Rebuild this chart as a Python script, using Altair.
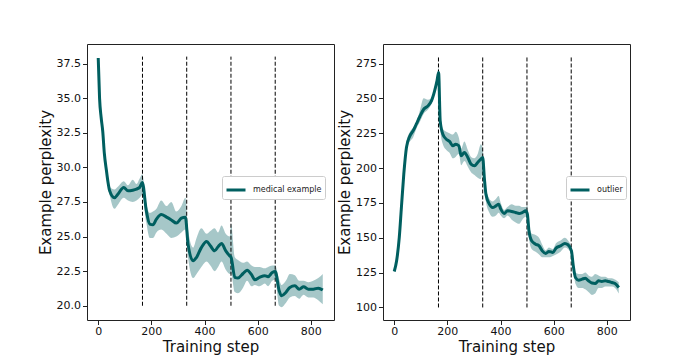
import altair as alt
import pandas as pd

# ---------------- data ----------------
med_steps = [0, 5, 11, 17, 23, 31, 37, 43, 61, 74, 96, 112, 130, 144, 156, 166,
             181, 194, 206, 219, 237, 257, 275, 294, 313, 328, 338, 357, 370, 388,
             408, 422, 438, 451, 464, 480, 495, 500, 514, 526, 545, 560, 577, 589,
             607, 627, 639, 655, 666, 681, 690, 706, 721, 740, 756, 773, 791, 809,
             828, 845]
med_mean = [37.9, 35.0, 33.6, 32.6, 31.0, 29.75, 28.9, 28.3, 27.8, 28.06, 28.55, 28.3,
            28.35, 28.43, 28.55, 28.9, 26.86, 25.9, 25.85, 26.26, 26.6, 26.4, 26.2,
            25.97, 26.33, 26.4, 24.45, 23.25, 23.5, 24.2, 24.65, 24.33, 23.97, 24.26,
            24.5, 23.97, 23.6, 23.5, 22.05, 22.0, 22.33, 22.57, 22.25, 21.88, 22.05,
            22.17, 22.1, 22.4, 22.48, 21.08, 20.72, 20.96, 21.32, 21.44, 21.2, 21.37,
            21.2, 21.2, 21.27, 21.13]
med_lo = [37.85, 34.9, 33.5, 32.5, 30.85, 29.6, 28.6, 28.0, 27.0, 27.3, 27.8, 27.6,
          27.5, 27.6, 27.8, 28.0, 26.0, 24.9, 24.9, 25.3, 25.5, 25.2, 24.9, 25.0,
          25.3, 25.5, 23.5, 22.0, 22.3, 22.8, 23.2, 22.9, 22.5, 22.8, 23.2, 22.6,
          22.3, 22.3, 21.0, 20.9, 21.3, 21.8, 21.4, 21.5, 21.4, 21.6, 21.4, 21.8,
          21.9, 20.0, 19.9, 20.2, 20.6, 20.7, 20.5, 20.8, 20.6, 20.6, 20.4, 20.1]
med_hi = [37.95, 35.1, 33.7, 32.7, 31.15, 29.9, 29.2, 28.6, 28.4, 28.6, 29.0, 28.7,
          29.1, 28.8, 29.2, 29.5, 27.4, 26.7, 26.8, 27.0, 27.6, 27.2, 27.5, 26.8,
          27.2, 27.8, 25.5, 24.2, 24.9, 25.6, 25.2, 25.4, 25.6, 25.3, 25.8, 25.2,
          25.0, 25.9, 23.5, 23.3, 23.1, 23.2, 22.9, 22.8, 22.8, 22.7, 22.8, 22.9,
          22.9, 21.9, 21.5, 21.8, 22.3, 22.2, 21.8, 21.8, 21.7, 21.8, 22.0, 22.3]

out_steps = [0, 9, 19, 27, 36, 46, 59, 71, 83, 96, 111, 127, 140, 152, 161, 167,
             173, 183, 196, 208, 221, 231, 243, 252, 264, 277, 289, 302, 314, 326,
             333, 339, 345, 358, 370, 383, 393, 401, 414, 426, 442, 457, 470, 482,
             495, 501, 507, 517, 532, 545, 557, 570, 582, 597, 609, 626, 642, 654,
             667, 673, 682, 694, 707, 719, 731, 744, 756, 769, 781, 794, 806, 819,
             831, 845]
out_mean = [125.8, 133.5, 150.2, 171.7, 195.6, 214.8, 223.1, 226.7, 231.5, 236.8,
            242.2, 244.6, 248.2, 255.4, 262.6, 268.5, 233.9, 224.3, 220.7, 219.1,
            216.0, 217.1, 216.0, 208.8, 211.2, 207.6, 202.8, 201.6, 204.0, 206.4,
            207.6, 193.2, 181.3, 174.1, 171.7, 172.9, 174.1, 170.5, 167.4, 169.3,
            168.9, 168.1, 167.4, 168.1, 169.3, 166.9, 155.0, 147.8, 145.4, 144.2,
            140.6, 138.7, 140.2, 139.4, 142.6, 144.2, 145.9, 145.0, 140.6, 131.1,
            121.5, 119.6, 120.3, 121.0, 119.1, 117.5, 117.2, 119.1, 118.6, 119.1,
            118.6, 117.9, 117.2, 114.3]
out_lo = [125.3, 132.5, 149.2, 170.7, 194.1, 212, 219, 222, 228, 233, 239, 242, 246,
          253, 259, 264, 228, 217, 213, 211, 207, 208, 210, 202, 205, 201, 197, 195,
          193, 192, 198, 188, 176, 168, 165, 166, 168, 166, 164, 166, 163, 161, 160,
          163, 165, 163, 150, 142, 140, 138, 136, 136, 136, 137, 138, 140, 143, 142,
          137, 128, 117, 114, 114, 113, 111, 109, 110, 114, 114, 115, 115, 115, 114,
          110]
out_hi = [126.3, 134.5, 151.2, 172.7, 197.1, 218, 226, 229, 233, 241, 250, 249, 250,
          258, 266, 272, 240, 228, 226, 225, 224, 226, 222, 214, 219, 213, 208, 207,
          210, 217, 214, 199, 186, 178, 176, 178, 180, 175, 170, 172, 174, 173, 173,
          172, 172, 173, 160, 153, 152, 150, 145, 141, 143, 142, 146, 148, 150, 148,
          143, 135, 125, 124, 124, 125, 123, 122, 124, 123, 122, 122, 121, 121, 120,
          118]

phase_steps = [166.5, 333, 499.5, 666]
x_ticks = [0, 200, 400, 600, 800]
med_ticks = [20.0, 22.5, 25.0, 27.5, 30.0, 32.5, 35.0, 37.5]
out_ticks = [100, 125, 150, 175, 200, 225, 250, 275]

LINE = "#005f60"
FONT = "DejaVu Sans"


def panel(steps, mean, lo, hi, name, ydom, vrange, ticks, fmt, legx):
    df = pd.DataFrame({"step": steps, "mean": mean, "lo": lo, "hi": hi,
                       "series": [name] * len(steps)})
    vdf = pd.DataFrame({"step": phase_steps,
                        "y0": [vrange[0]] * len(phase_steps),
                        "y1": [vrange[1]] * len(phase_steps)})
    xscale = alt.Scale(domain=[-42.25, 887.25], nice=False, zero=False)
    xaxis = alt.Axis(values=x_ticks, title="Training step", labelOverlap=False,
                     labelPadding=1, titlePadding=3)
    yscale = alt.Scale(domain=ydom, nice=False, zero=False)
    yaxis = alt.Axis(values=ticks, format=fmt, title="Example perplexity",
                     labelOverlap=False)

    band = alt.Chart(df).mark_area(color=LINE, opacity=0.35,
                                   interpolate="monotone").encode(
        x=alt.X("step:Q", scale=xscale, axis=xaxis),
        y=alt.Y("lo:Q", scale=yscale, axis=yaxis),
        y2="hi:Q",
    )
    rules = alt.Chart(vdf).mark_rule(color="black", strokeWidth=1,
                                     strokeDash=[4, 2]).encode(
        x=alt.X("step:Q", scale=xscale, axis=xaxis),
        y=alt.Y("y0:Q", scale=yscale, axis=yaxis),
        y2="y1:Q",
    )
    line = alt.Chart(df).mark_line(strokeWidth=3, interpolate="monotone").encode(
        x=alt.X("step:Q", scale=xscale, axis=xaxis),
        y=alt.Y("mean:Q", scale=yscale, axis=yaxis),
        color=alt.Color("series:N", scale=alt.Scale(range=[LINE]),
                        legend=alt.Legend(orient="none", legendX=legx, legendY=132,
                                          title=None, symbolType="stroke",
                                          symbolStrokeWidth=3, symbolSize=361,
                                          labelFontSize=8, labelFont=FONT,
                                          labelColor="#222", labelOffset=6,
                                          strokeColor="#cccccc", fillColor="white",
                                          padding=3, cornerRadius=2)),
    )
    return alt.layer(band, rules, line).properties(width=247, height=276)


left = panel(med_steps, med_mean, med_lo, med_hi, "medical example",
             [18.97, 38.91], [20, 38], med_ticks, ".1f", 135)
right = panel(out_steps, out_mean, out_lo, out_hi, "outlier",
              [91, 289], [100, 280], out_ticks, "d", 183)

chart = alt.hconcat(left, right, spacing=2).resolve_scale(
    x="independent", y="independent", color="independent"
).resolve_legend(color="independent").properties(
    padding={"left": 29, "top": 35, "right": 5, "bottom": 5}
).configure_view(
    stroke="#222", strokeWidth=1
).configure_axis(
    grid=False, domain=False, tickColor="#222", tickSize=4.5, labelPadding=2,
    labelFont=FONT, labelFontSize=11, labelColor="#111",
    titleFont=FONT, titleFontSize=15, titleFontWeight="normal", titleColor="#111",
    titlePadding=3,
)

chart.save("out.html", embed_options={"renderer": "svg", "actions": False})
